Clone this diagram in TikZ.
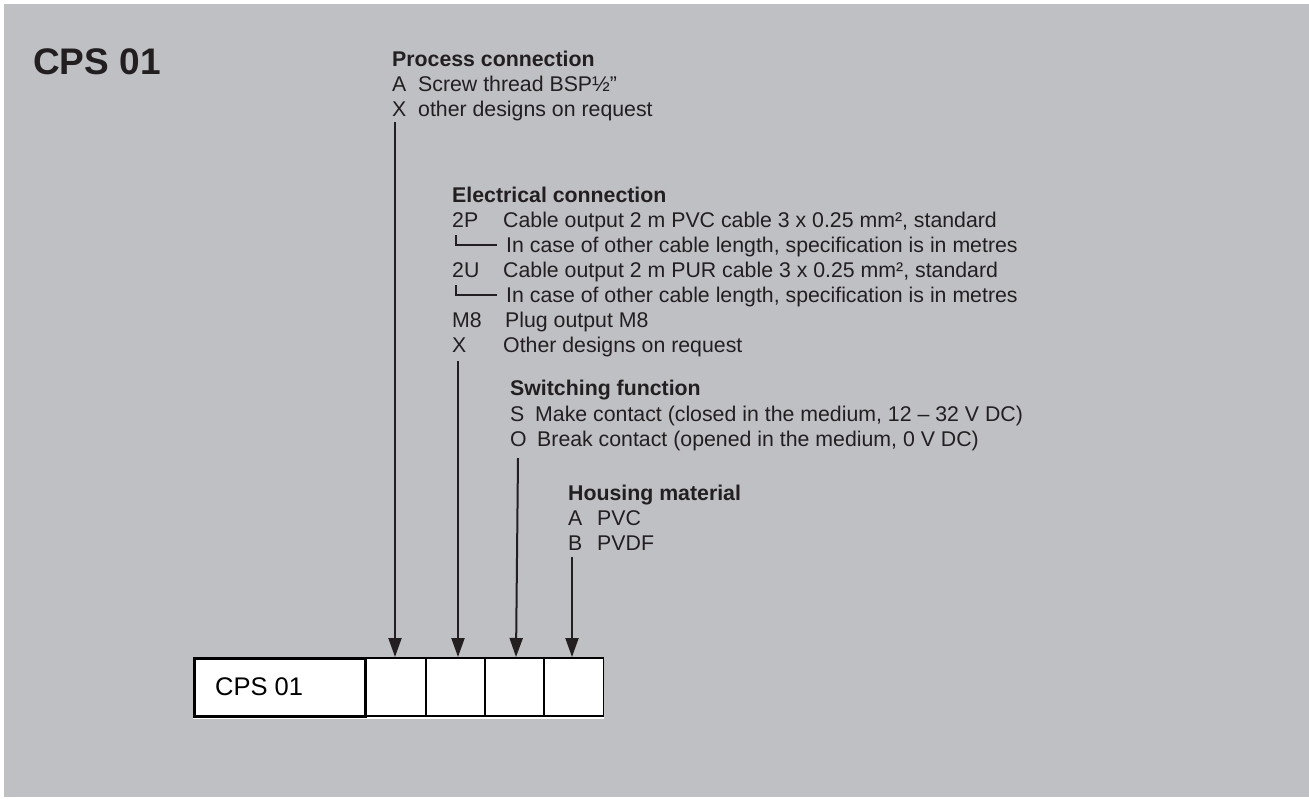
\documentclass[tikz,border=0pt]{standalone}
\usepackage{fontspec}
\setmainfont{Liberation Sans}
\usetikzlibrary{arrows.meta}
\definecolor{bg}{RGB}{190,192,196}
\definecolor{ink}{RGB}{35,31,32}
\definecolor{shade}{RGB}{120,122,126}
\tikzset{
  txt/.style={anchor=base west, inner sep=0pt, text=ink, font=\fontsize{21.3}{24}\selectfont},
  head/.style={txt, font=\fontsize{21.3}{24}\selectfont\bfseries},
  feed/.style={draw=ink, line width=2pt, -{Triangle[length=19pt,width=13pt]}},
  bigbox/.style={draw=black, line width=2.5pt, fill=white, minimum width=171pt, minimum height=58pt, inner sep=0pt, anchor=north west},
  smallbox/.style={draw=black, line width=1.5pt, fill=white, minimum width=59.5pt, minimum height=58pt, inner sep=0pt, anchor=north west},
  tick/.style={draw=ink, line width=1.4pt}
}
\begin{document}
\begin{tikzpicture}[x=1pt,y=-1pt]
\useasboundingbox (0,0) rectangle (1309,798);
\fill[white] (0,0) rectangle (1309,798);
\fill[bg] (4,4) rectangle (1309,797);

\node[anchor=base west, inner sep=0pt, text=ink, font=\fontsize{37}{40}\selectfont\bfseries] (title) at (33,74) {CPS 01};

% Process connection
\node[head] (ph) at (392,66) {Process connection};
\node[txt] (pa) at (392,91) {A};
\node[txt] at (418,91) {Screw thread BSP½\char"22};
\node[txt] (px) at (392,116) {X};
\node[txt] at (418,116) {other designs on request};

% Electrical connection
\node[head] (eh) at (452,202) {Electrical connection};
\node[txt] (e1) at (452,227) {2P};
\node[txt] at (503,227) {Cable output 2 m PVC cable 3 x 0.25 mm², standard};
\node[txt] (e2) at (506,252) {In case of other cable length, specification is in metres};
\node[txt] (e3) at (452,277) {2U};
\node[txt] at (503,277) {Cable output 2 m PUR cable 3 x 0.25 mm², standard};
\node[txt] (e4) at (506,302) {In case of other cable length, specification is in metres};
\node[txt] (e5) at (452,327) {M8};
\node[txt] at (505,327) {Plug output M8};
\node[txt] (ex) at (452,352) {X};
\node[txt] at (503,352) {Other designs on request};
\draw[tick] (456,235) -- (456,245) -- (497,245);
\draw[tick] (456,285) -- (456,295) -- (497,295);

% Switching function
\node[head] (sh) at (510,395) {Switching function};
\node[txt] (ss) at (510,421) {S};
\node[txt] at (535,421) {Make contact (closed in the medium, 12 – 32 V DC)};
\node[txt] (so) at (510,446) {O};
\node[txt] at (537,446) {Break contact (opened in the medium, 0 V DC)};

% Housing material
\node[head] (hh) at (568,500) {Housing material};
\node[txt] (ha) at (568,525) {A};
\node[txt] at (597,525) {PVC};
\node[txt] (hb) at (568,550) {B};
\node[txt] at (597,550) {PVDF};

% Boxes
\fill[shade] (193,660) rectangle (604,718);
\node[bigbox] (b0) at (193,657) {};
\node[anchor=base west, inner sep=0pt, text=black, font=\fontsize{25.5}{28}\selectfont] at (215,695) {CPS 01};
\node[smallbox] (b1) at (365,657) {};
\node[smallbox] (b2) at (425,657) {};
\node[smallbox] (b3) at (484,657) {};
\node[smallbox] (b4) at (543,657) {};

% Feed lines
\coordinate (c1) at (395,122);
\coordinate (c2) at (458,361);
\coordinate (c3) at (518,458);
\coordinate (c4) at (572,557);
\draw[feed] (c1) -- (b1.north west -| c1);
\draw[feed] (c2) -- (b2.north west -| c2);
\draw[feed] (c3) -- ([xshift=-2pt]b3.north west -| c3);
\draw[feed] (c4) -- (b4.north west -| c4);
\end{tikzpicture}
\end{document}
